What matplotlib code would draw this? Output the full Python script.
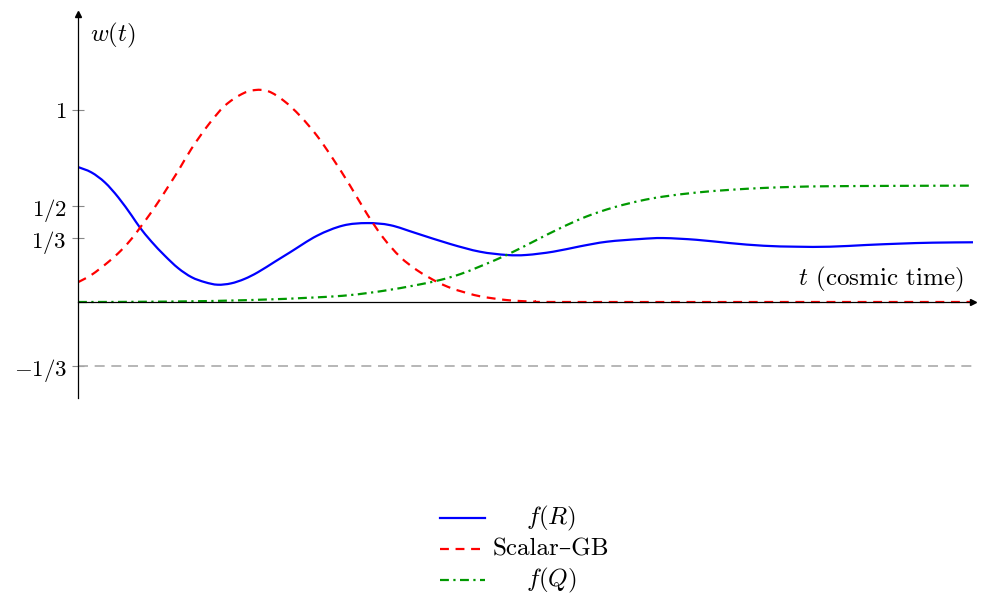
import matplotlib.pyplot as plt
from matplotlib.lines import Line2D
from matplotlib.path import Path
from matplotlib.patches import PathPatch

plt.rcParams['mathtext.fontset'] = 'cm'
plt.rcParams['font.family'] = ['cmr10', 'DejaVu Serif']
plt.rcParams['axes.unicode_minus'] = False

# values
t_fr = [0.0, 0.15, 0.30, 0.45, 0.60, 0.69, 0.82, 0.97, 1.12, 1.27, 1.42, 1.56, 1.71, 1.86, 2.01,
        2.20, 2.37, 2.67, 2.96, 3.23, 3.49, 3.78, 4.16, 4.49, 4.79, 5.01, 5.31,
        5.61, 5.91, 6.28, 6.54, 6.91, 7.28, 7.66, 8.03, 8.40, 8.81, 9.18, 9.55, 10.0]
w_fr = [0.703, 0.675, 0.623, 0.545, 0.450, 0.389, 0.315, 0.241, 0.176, 0.129, 0.103, 0.090, 0.097,
        0.120, 0.155,
        0.210, 0.259, 0.345, 0.398, 0.411, 0.400, 0.358, 0.302, 0.262, 0.245, 0.245, 0.262,
        0.290, 0.314, 0.328, 0.333, 0.324, 0.307, 0.293, 0.288, 0.288, 0.297, 0.304, 0.309, 0.311]

t_gb = [0.0, 0.15, 0.335, 0.48, 0.60, 0.69, 0.80, 0.91, 1.01, 1.12, 1.27, 1.46, 1.64, 1.83,
        1.98, 2.13, 2.30, 2.48, 2.67, 2.85, 3.04, 3.23, 3.41, 3.60, 3.79, 4.01, 4.16, 4.27,
        4.49, 4.79, 5.09, 5.4, 8.0, 10.0]
w_gb = [0.103, 0.141, 0.207, 0.268, 0.330, 0.385, 0.455, 0.530, 0.603, 0.683, 0.800, 0.925,
        1.022, 1.083, 1.104, 1.097, 1.048, 0.970, 0.866, 0.745, 0.606, 0.458, 0.335, 0.235,
        0.165, 0.105, 0.074, 0.057, 0.030, 0.010, 0.002, 0.0, 0.0, 0.0]

t_fq = [0.0, 1.0, 1.92, 2.66, 3.04, 3.41, 3.78, 4.05, 4.27, 4.49, 4.79, 5.09, 5.39,
        5.68, 5.98, 6.28, 6.54, 6.91, 7.28, 7.66, 8.03, 8.40, 9.2, 10.0]
w_fq = [0.0, 0.002, 0.010, 0.024, 0.036, 0.058, 0.088, 0.115, 0.145, 0.185, 0.245, 0.315, 0.385,
        0.445, 0.492, 0.527, 0.549, 0.570, 0.584, 0.594, 0.600, 0.603, 0.605, 0.606]

yticks = [-1/3, 1/3, 1/2, 1]
ylabels = [r'$-1/3$', r'$1/3$', r'$1/2$', r'$1$']


def smooth_path(xs, ys):
    # cubic bezier through the points (like pgfplots "smooth")
    pts = list(zip(xs, ys))
    n = len(pts)
    verts = [pts[0]]
    codes = [Path.MOVETO]
    for i in range(n - 1):
        p0 = pts[max(i - 1, 0)]
        p1 = pts[i]
        p2 = pts[i + 1]
        p3 = pts[min(i + 2, n - 1)]
        c1 = (p1[0] + (p2[0] - p0[0]) / 6, p1[1] + (p2[1] - p0[1]) / 6)
        c2 = (p2[0] - (p3[0] - p1[0]) / 6, p2[1] - (p3[1] - p1[1]) / 6)
        verts += [c1, c2, p2]
        codes += [Path.CURVE4] * 3
    return Path(verts, codes)


fig = plt.figure(figsize=(9.81, 5.97), dpi=100)
ax = fig.add_axes([78/981, 1 - 398/597, 895/981, 384/597])

ax.axhline(-1/3, color='#aaaaaa', lw=1.2, ls=(0, (6, 4)))
ax.add_patch(PathPatch(smooth_path(t_fr, w_fr), fill=False, edgecolor='#0000ff', lw=1.6))
ax.add_patch(PathPatch(smooth_path(t_gb, w_gb), fill=False, edgecolor='#ff0000', lw=1.6,
                       ls=(0, (4, 3))))
ax.add_patch(PathPatch(smooth_path(t_fq, w_fq), fill=False, edgecolor='#009900', lw=1.6,
                       ls=(0, (4, 2, 1, 2))))

ax.set_xlim(0, 10)
ax.set_ylim(-0.5, 1.5)
ax.spines['left'].set_position(('data', 0))
ax.spines['bottom'].set_position(('data', 0))
ax.spines['top'].set_visible(False)
ax.spines['right'].set_visible(False)
for s in ('left', 'bottom'):
    ax.spines[s].set_linewidth(0.9)
ax.set_xticks([])
ax.set_yticks(yticks)
ax.set_yticklabels(ylabels, fontsize=16.5)
ax.tick_params(axis='y', direction='inout', length=8, width=0.8, color='#888888', pad=4)

# arrow heads
ax.plot(1, 0, '>k', ms=5, transform=ax.get_yaxis_transform(), clip_on=False)
ax.plot(0, 1, '^k', ms=5, transform=ax.get_xaxis_transform(), clip_on=False)

ax.text(0.13, 1.39, r'$w(t)$', fontsize=18, ha='left', va='center')
ax.text(9.89, 0.12, r'$t$ (cosmic time)', fontsize=18, ha='right', va='center')

# legend below the plot, entries centred
rows = [518, 549, 580]
styles = [dict(color='#0000ff', ls='-'), dict(color='#ff0000', ls=(0, (4, 3))),
          dict(color='#009900', ls=(0, (4, 2, 1, 2)))]
names = [r'$f(R)$', 'Scalar–GB', r'$f(Q)$']
for ry, st, nm in zip(rows, styles, names):
    yy = 1 - ry / 597
    fig.add_artist(Line2D([440/981, 485/981], [yy, yy], lw=1.6, **st))
    fig.text(551/981, yy, nm, fontsize=18, ha='center', va='center')

fig.savefig('out.png', dpi=100)
